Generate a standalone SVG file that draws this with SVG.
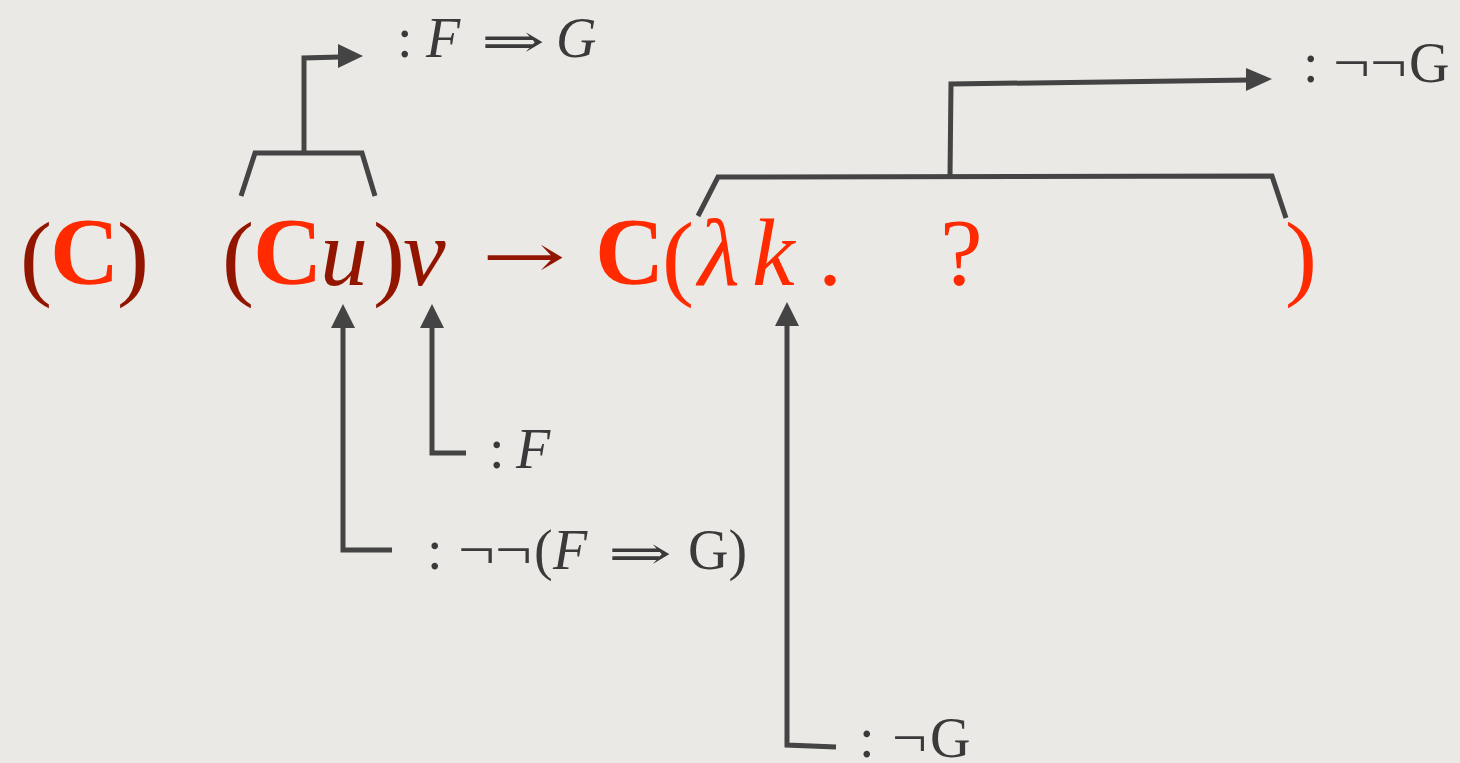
<svg xmlns="http://www.w3.org/2000/svg" width="1460" height="763" viewBox="0 0 1460 763">
<style>
.m{font-family:"Liberation Serif","DejaVu Serif",serif;font-size:96px}
.dk{fill:#921500}
.br{fill:#ff2a00}
.b{font-weight:bold}
.i{font-style:italic}
.lb{font-family:"Liberation Serif","DejaVu Serif",serif;font-size:56px;fill:#3a3a3a}
.sym{font-family:"DejaVu Serif",serif;font-size:46px;fill:#3a3a3a}
.c{fill:none;stroke:#444;stroke-width:5;stroke-linejoin:miter}
.ah{fill:#444}
</style>
<rect width="1460" height="763" fill="#ebe9e5"/>
<g id="formula">
<text class="m dk" x="20" y="288">(</text>
<text class="m br b" x="50" y="284">C</text>
<text class="m dk" x="117" y="288">)</text>
<text class="m dk" x="222" y="288">(</text>
<text class="m br b" x="253" y="284">C</text>
<text class="m dk i" x="320" y="285">u</text>
<text class="m dk" x="373" y="288">)</text>
<text class="m dk i" x="403" y="285">v</text>
<text class="sym" x="482" y="277" style="fill:#921500;font-size:60px" textLength="84" lengthAdjust="spacingAndGlyphs">→</text>
<text class="m br b" x="595" y="284">C</text>
<text class="m br" x="662" y="288">(</text>
<text class="m br i" x="698" y="285">λ</text>
<text class="m br i" x="752" y="285">k</text>
<text class="m br" x="818" y="285">.</text>
<text class="m br" x="940" y="285">?</text>
<text class="m br" x="1285" y="288">)</text>
</g>
<g id="connectors">
<path class="c" d="M241,196 L255,153 L362,153 L375,196"/>
<path class="c" d="M304,153 L304,58 L340,57"/>
<polygon class="ah" points="338,44 363,56 338,68"/>
<path class="c" d="M698,216 L718,177 L1272,176 L1286,218"/>
<path class="c" d="M950,177 L951,84 L1250,80"/>
<polygon class="ah" points="1246,68 1272,79 1246,91"/>
<path class="c" d="M343,328 L343,550 L392,550"/>
<polygon class="ah" points="331,328 343,304 355,328"/>
<path class="c" d="M432,328 L432,453 L466,453"/>
<polygon class="ah" points="420,328 432,304 444,328"/>
<path class="c" d="M787,326 L787,745 L836,747"/>
<polygon class="ah" points="775,326 787,302 799,326"/>
</g>
<g id="label-fg">
<text class="lb" x="397" y="57">:</text>
<text class="lb i" x="426" y="57">F</text>
<text class="sym" x="481" y="57" textLength="64" lengthAdjust="spacingAndGlyphs">⇒</text>
<text class="lb i" x="556" y="57">G</text>
</g>
<g id="label-nng">
<text class="lb" x="1303" y="82">:</text>
<text class="lb" x="1333" y="82" textLength="74" lengthAdjust="spacingAndGlyphs">¬¬</text>
<text class="lb" x="1409" y="82">G</text>
</g>
<g id="label-f">
<text class="lb" x="489" y="468">:</text>
<text class="lb i" x="516" y="468">F</text>
</g>
<g id="label-nnfg">
<text class="lb" x="427" y="569">:</text>
<text class="lb" x="458" y="569" textLength="74" lengthAdjust="spacingAndGlyphs">¬¬</text>
<text class="lb" x="534" y="569">(</text>
<text class="lb i" x="553" y="569">F</text>
<text class="sym" x="608" y="569" textLength="64" lengthAdjust="spacingAndGlyphs">⇒</text>
<text class="lb" x="688" y="569">G)</text>
</g>
<g id="label-ng">
<text class="lb" x="859" y="757">:</text>
<text class="lb" x="892" y="757" textLength="35" lengthAdjust="spacingAndGlyphs">¬</text>
<text class="lb" x="930" y="757">G</text>
</g>
</svg>
